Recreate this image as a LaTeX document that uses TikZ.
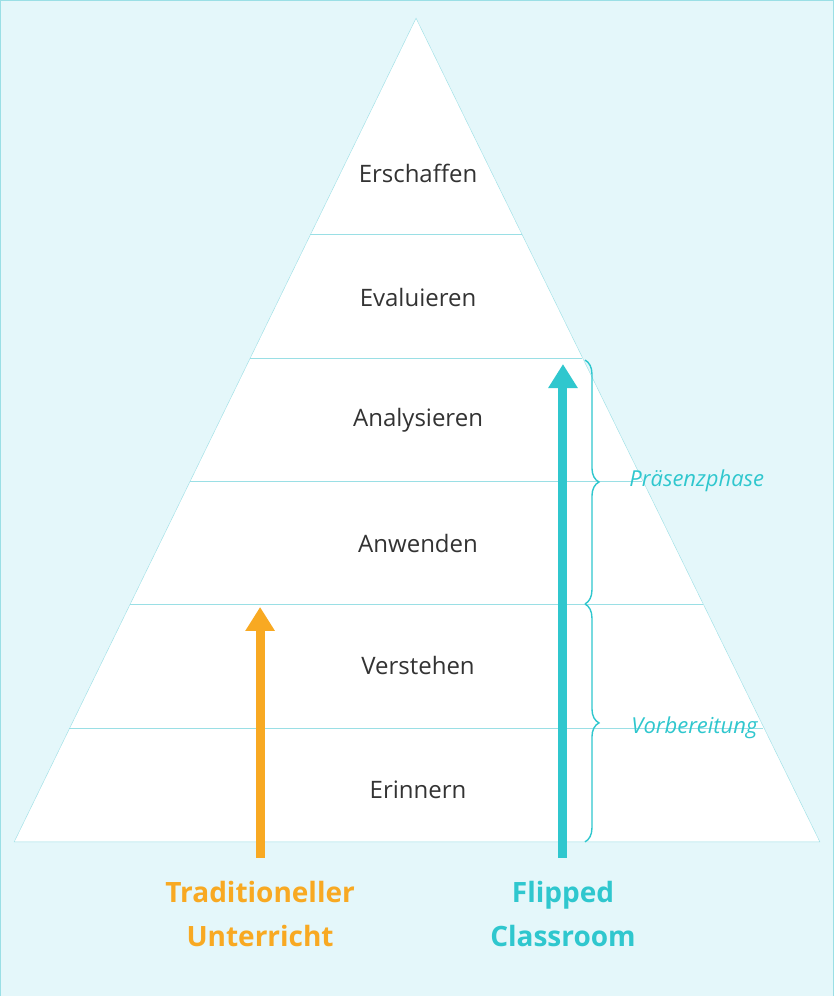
\documentclass[tikz,border=0pt]{standalone}
\usepackage{fontspec}
\setmainfont{Open Sans}
\usepackage{tikz}
\usetikzlibrary{arrows.meta, calc, decorations.pathreplacing}
\definecolor{bgcyan}{HTML}{E4F7FA}
\definecolor{edgecyan}{HTML}{9ADFE5}
\definecolor{tealarrow}{HTML}{2FC7CE}
\definecolor{orangearrow}{HTML}{F8A922}
\definecolor{textgray}{HTML}{333333}
\tikzset{
  level/.style={text=textgray, font=\fontsize{24}{28}\selectfont},
  caption/.style={font=\bfseries\fontsize{28}{44}\selectfont, align=center},
  phase/.style={text=tealarrow, font=\itshape\fontsize{22}{26}\selectfont},
  bigarrow/.style={line width=9pt, -{Triangle[length=24pt,width=28pt]}},
  phasebrace/.style={decorate, decoration={brace, amplitude=14pt}, tealarrow, line width=1.4pt}
}
\begin{document}
\begin{tikzpicture}[x=1pt,y=-1pt]
    \draw [fill=bgcyan, draw=edgecyan] (0,0) rectangle (833,996);
    \coordinate (Top) at (416,18);
    \coordinate (BaseL) at (14,842);
    \coordinate (BaseR) at (820,842);
    \draw [fill=white, draw=edgecyan] (Top) -- (BaseL) -- (BaseR) -- cycle;
    % level lines
    \foreach \y in {234,358,481,604,728}
        \draw [edgecyan] ({416-(\y-18)*0.48908},\y) -- ({416+(\y-18)*0.48908},\y);
    % level names
    \node [level] (Create)   at (418,173) {Erschaffen};
    \node [level] (Evaluate) at (418,297) {Evaluieren};
    \node [level] (Analyse)  at (418,420) {Analysieren};
    \node [level] (Apply)    at (418,544) {Anwenden};
    \node [level] (Know)     at (418,666) {Verstehen};
    \node [level] (Remember) at (418,790) {Erinnern};
    % arrows
    \coordinate (TradStart) at (260,858);
    \coordinate (TradEnd) at (260,607);
    \coordinate (FlipStart) at (563,858);
    \coordinate (FlipEnd) at (563,364);
    \draw [bigarrow, orangearrow] (TradStart) -- (TradEnd);
    \draw [bigarrow, tealarrow] (FlipStart) -- (FlipEnd);
    \node [caption, text=orangearrow] (Trad) at (260,914) {Traditioneller\\Unterricht};
    \node [caption, text=tealarrow] (Flip) at (563,914) {Flipped\\Classroom};
    % braces
    \coordinate (BraceA) at (585,360);
    \coordinate (BraceB) at (585,604);
    \coordinate (BraceC) at (585,842);
    \draw [phasebrace] (BraceA) -- (BraceB);
    \draw [phasebrace] (BraceB) -- (BraceC);
    \node [phase, anchor=west] (Praes) at (626,481) {Präsenzphase};
    \node [phase, anchor=west] (Vorb) at (628,728) {Vorbereitung};
\end{tikzpicture}
\end{document}
